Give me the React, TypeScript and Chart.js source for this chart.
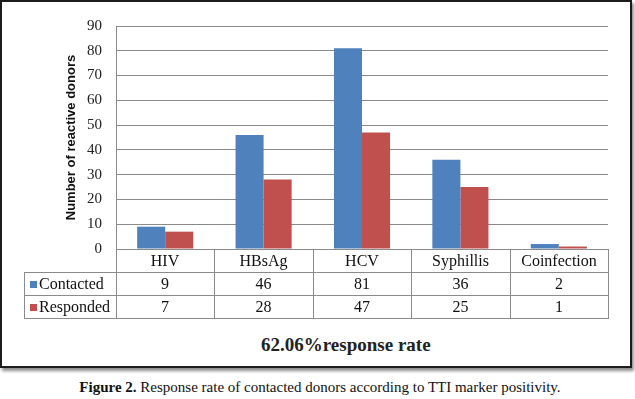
import React, { useEffect, useRef } from "react";
import { Chart, registerables } from "chart.js";

Chart.register(...registerables);

const categories = ["HIV", "HBsAg", "HCV", "Syphillis", "Coinfection"];
const seriesNames = ["Contacted", "Responded"];
const contacted = [9, 46, 81, 36, 2];
const responded = [7, 28, 47, 25, 1];
const yTicks = { min: 0, max: 90, step: 10 };
const colors = ["#4F81BD", "#C0504D"];
const yTitle = "Number of reactive donors";
const subtitle = "62.06%response rate";
const captionBold = "Figure 2.";
const captionText = " Response rate of contacted donors according to TTI marker positivity.";

const GRID = "#8a8a8a";
const SERIF = "'Liberation Serif', 'Times New Roman', serif";

const tablePlugin = {
  id: "dataTable",
  afterDraw(chart: any) {
    const { ctx, chartArea, scales } = chart;
    const x = scales.x;
    const n = categories.length;
    const edges: number[] = [];
    for (let i = 0; i <= n; i++) edges.push(Math.round(x.getPixelForValue(i - 0.5)));
    const top = Math.round(chartArea.bottom);
    const rowH = 23;
    const rows = [top, top + rowH, top + 2 * rowH, top + 3 * rowH];
    const legendLeft = 24;
    const series = [contacted, responded];

    ctx.save();
    ctx.strokeStyle = GRID;
    ctx.lineWidth = 1;
    ctx.beginPath();
    ctx.moveTo(edges[0], rows[0] + 0.5);
    ctx.lineTo(edges[n], rows[0] + 0.5);
    for (let r = 1; r < rows.length; r++) {
      ctx.moveTo(legendLeft, rows[r] + 0.5);
      ctx.lineTo(edges[n] + 1, rows[r] + 0.5);
    }
    for (let i = 0; i <= n; i++) {
      ctx.moveTo(edges[i] + 0.5, rows[0]);
      ctx.lineTo(edges[i] + 0.5, rows[3] + 1);
    }
    ctx.moveTo(legendLeft + 0.5, rows[1]);
    ctx.lineTo(legendLeft + 0.5, rows[3] + 1);
    ctx.stroke();

    ctx.fillStyle = "#111";
    ctx.font = `16px ${SERIF}`;
    ctx.textBaseline = "middle";
    ctx.textAlign = "center";
    for (let i = 0; i < n; i++) {
      const cx = (edges[i] + edges[i + 1]) / 2;
      ctx.fillText(categories[i], cx, rows[0] + rowH / 2 + 1);
      for (let s = 0; s < series.length; s++) {
        ctx.fillText(String(series[s][i]), cx, rows[s + 1] + rowH / 2 + 1);
      }
    }
    ctx.textAlign = "left";
    for (let s = 0; s < seriesNames.length; s++) {
      const cy = rows[s + 1] + rowH / 2;
      ctx.fillStyle = colors[s];
      ctx.fillRect(30, Math.round(cy) - 3, 7, 7);
      ctx.fillStyle = "#111";
      ctx.fillText(seriesNames[s], 39, cy + 1);
    }
    ctx.restore();
  },
};

export default function App() {
  const ref = useRef<HTMLCanvasElement | null>(null);

  useEffect(() => {
    document.body.style.margin = "0";
    const canvas = ref.current;
    if (!canvas) return;
    const chart = new Chart(canvas, {
      type: "bar",
      data: {
        labels: categories,
        datasets: [
          { label: seriesNames[0], data: contacted, backgroundColor: colors[0] },
          { label: seriesNames[1], data: responded, backgroundColor: colors[1] },
        ],
      },
      options: {
        responsive: false,
        animation: false,
        devicePixelRatio: 1,
        datasets: { bar: { categoryPercentage: 0.57, barPercentage: 1 } },
        layout: { padding: { left: 0, right: 27, top: 26, bottom: 81 } },
        plugins: { legend: { display: false }, tooltip: { enabled: false }, title: { display: false } },
        scales: {
          x: { display: false },
          y: {
            min: yTicks.min,
            max: yTicks.max,
            ticks: { stepSize: yTicks.step, padding: 14, color: "#222", font: { family: SERIF, size: 15 } },
            grid: { color: GRID, drawTicks: false },
            border: { display: true, color: GRID },
            title: {
              display: true,
              text: yTitle,
              color: "#111",
              font: { family: "'Liberation Sans', Arial, sans-serif", size: 13, weight: "bold" },
              padding: { top: 64, bottom: 0 },
            },
            afterFit: (s: any) => {
              s.width = 116;
            },
          },
        },
      },
      plugins: [tablePlugin],
    });
    return () => chart.destroy();
  }, []);

  return (
    <div style={{ position: "relative", width: 635, height: 399, background: "#fff" }}>
      <div
        style={{
          position: "absolute",
          left: 0,
          top: 0,
          width: 632,
          height: 368,
          boxSizing: "border-box",
          border: "2px solid #1c1c1c",
          boxShadow: "2px 3px 3px rgba(0,0,0,0.45)",
          background: "#fff",
        }}
      />
      <canvas ref={ref} width={635} height={330} style={{ position: "absolute", left: 0, top: 0 }} />
      <div
        style={{
          position: "absolute",
          left: 261,
          top: 333,
          fontFamily: SERIF,
          fontWeight: "bold",
          fontSize: 19,
          lineHeight: "24px",
          color: "#222",
          whiteSpace: "nowrap",
        }}
      >
        {subtitle}
      </div>
      <div
        style={{
          position: "absolute",
          left: 0,
          width: 640,
          top: 378,
          textAlign: "center",
          fontFamily: SERIF,
          fontSize: 15,
          lineHeight: "19px",
          color: "#111",
          whiteSpace: "nowrap",
        }}
      >
        <b>{captionBold}</b>
        {captionText}
      </div>
    </div>
  );
}
